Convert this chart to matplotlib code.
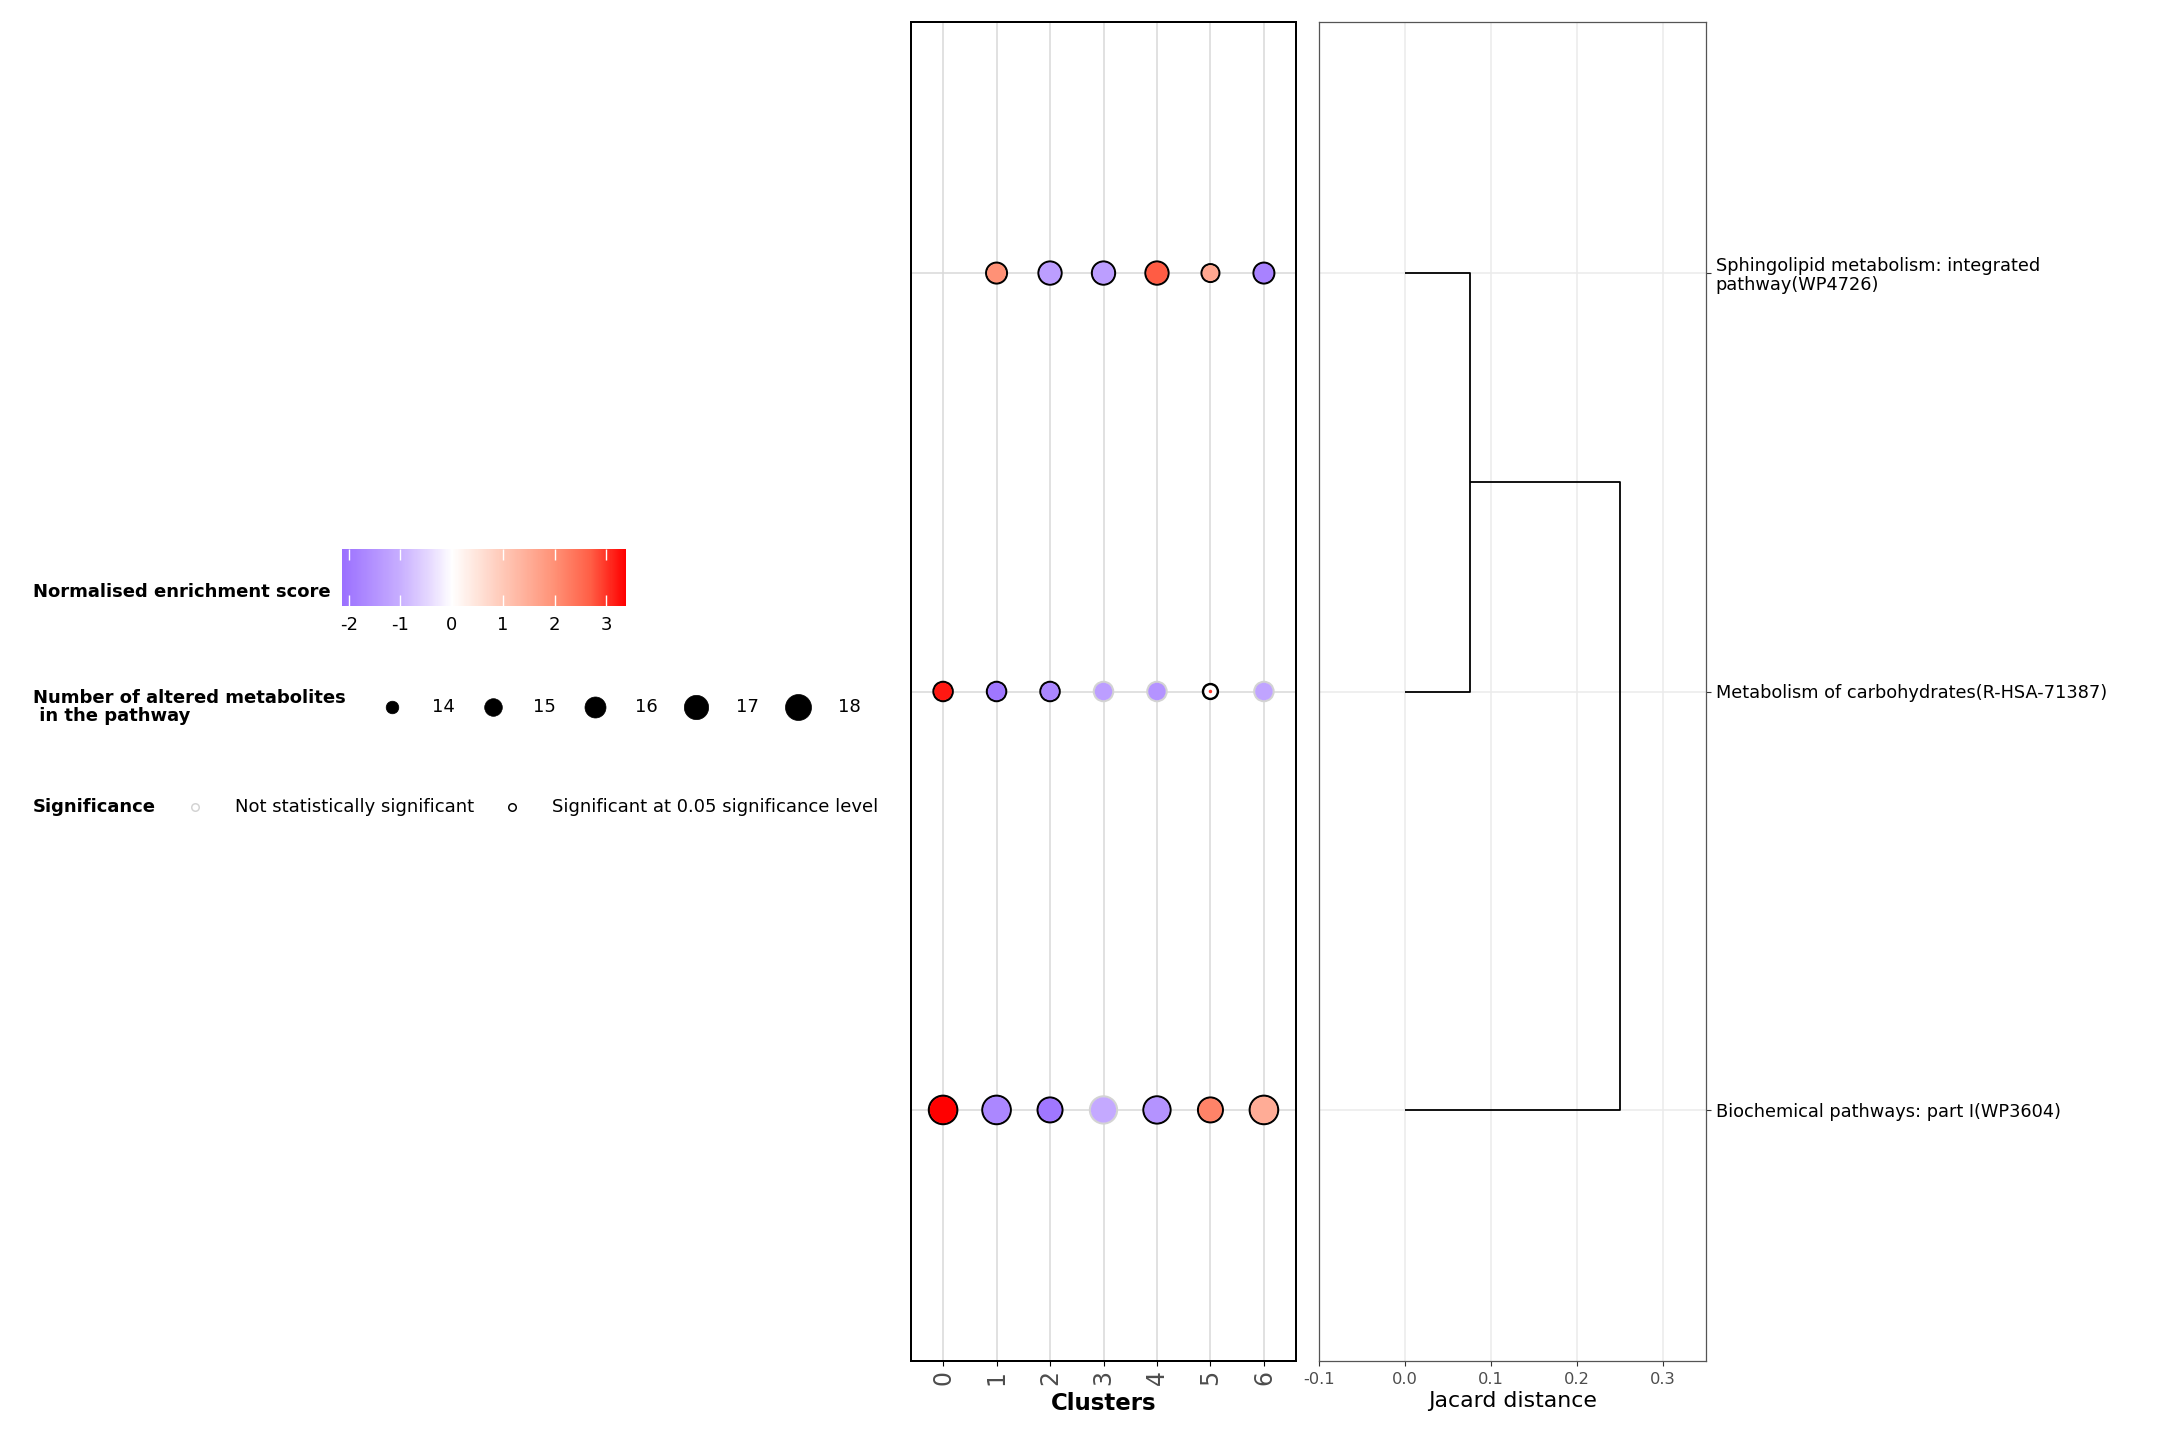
import numpy as np
import matplotlib
matplotlib.use("Agg")
import matplotlib.pyplot as plt
from matplotlib.colors import LinearSegmentedColormap, Normalize
from matplotlib.cm import ScalarMappable

plt.rcParams["axes.unicode_minus"] = False

# ---- data ----
clusters = [0, 1, 2, 3, 4, 5, 6]
pathways = ["Biochemical pathways: part I(WP3604)",
            "Metabolism of carbohydrates(R-HSA-71387)",
            "Sphingolipid metabolism: integrated\npathway(WP4726)"]

# normalised enrichment score per cluster (nan = not tested)
nes_biochem = [3.39, -1.7, -2.0, -1.1, -1.5, 2.2, 1.5]
nes_carb = [3.2, -2.0, -1.7, -1.3, -1.5, 3.0, -1.2]
nes_sphingo = [np.nan, 2.0, -1.3, -1.3, 2.7, 1.6, -1.8]

# number of altered metabolites per cluster
n_biochem = [20, 20, 18, 19, 19, 18, 20]
n_carb = [15, 15, 15, 15, 15, 13, 15]
n_sphingo = [np.nan, 16, 17, 17, 17, 14, 16]

# significant at 0.05 ?
sig_biochem = [1, 1, 1, 0, 1, 1, 1]
sig_carb = [1, 1, 1, 0, 0, 1, 0]
sig_sphingo = [0, 1, 1, 1, 1, 1, 1]

# dendrogram of the pathways (jaccard distance merge heights)
merge_heights = [0.075, 0.25]

nes_limits = (-2.13, 3.39)
size_breaks = [14, 15, 16, 17, 18]

# ---- style ----
W, H, DPI = 2160, 1440, 100
PT = 72 / DPI   # points per pixel

count_steps = [13, 14, 15, 16, 17, 18, 19, 20]
ring_px = [17.3, 20, 21.5, 23, 25.3, 27, 29.3, 30.6]
fill_px = [3.5, 16, 17.5, 19, 21.3, 23, 25.3, 26.6]
legend_px = [13.3, 18.3, 21.7, 25, 26.7]
RING_LW = 2.4

span = nes_limits[1] - nes_limits[0]
cmap = LinearSegmentedColormap.from_list("nes", [
    (0.0, (155/255, 112/255, 1.0)),
    ((-1.0 - nes_limits[0]) / span, (200/255, 175/255, 1.0)),
    ((-0.4 - nes_limits[0]) / span, (232/255, 220/255, 1.0)),
    ((0.0 - nes_limits[0]) / span, (1.0, 1.0, 1.0)),
    ((0.5 - nes_limits[0]) / span, (1.0, 228/255, 218/255)),
    ((1.0 - nes_limits[0]) / span, (1.0, 200/255, 183/255)),
    ((2.0 - nes_limits[0]) / span, (1.0, 145/255, 118/255)),
    ((2.7 - nes_limits[0]) / span, (1.0, 95/255, 70/255)),
    (1.0, (1.0, 0.0, 0.0)),
])
norm = Normalize(*nes_limits)


def frac(x0, y0, x1, y1):
    # pixel box (top-left origin) -> figure fraction
    return [x0 / W, 1 - y1 / H, (x1 - x0) / W, (y1 - y0) / H]


fig = plt.figure(figsize=(W / DPI, H / DPI), dpi=DPI)

# ---------------- dot plot ----------------
ax = fig.add_axes(frac(911, 22, 1296, 1361))
ax.set_xlim(-0.6, 6.6)
ax.set_ylim(0.4, 3.6)
for c in clusters:
    ax.axvline(c, color="#d9d9d9", lw=1.1, zorder=0)
for r in [1, 2, 3]:
    ax.axhline(r, color="#d9d9d9", lw=1.1, zorder=0)

rows = [(nes_biochem, n_biochem, sig_biochem),
        (nes_carb, n_carb, sig_carb),
        (nes_sphingo, n_sphingo, sig_sphingo)]
for yi, (nes, cnt, sig) in enumerate(rows, start=1):
    nes = np.array(nes, dtype=float)
    cnt = np.array(cnt, dtype=float)
    ok = ~np.isnan(nes)
    x = np.array(clusters)[ok]
    y = np.full(x.shape, yi)
    rp = np.interp(cnt[ok], count_steps, ring_px)
    fp = np.interp(cnt[ok], count_steps, fill_px)
    edge = ["black" if s else "#d3d3d3" for s, o in zip(sig, ok) if o]
    ax.scatter(x, y, s=((rp - RING_LW) * PT) ** 2, facecolors="white",
               edgecolors=edge, linewidths=RING_LW * PT, zorder=3)
    ax.scatter(x, y, s=(fp * PT) ** 2, c=nes[ok], cmap=cmap, norm=norm,
               linewidths=0, zorder=4)

ax.set_yticks([])
ax.set_xticks(clusters)
ax.set_xticklabels([str(c) for c in clusters], rotation=90, fontsize=17,
                   color="#4d4d4d")
ax.tick_params(axis="x", length=3.6, width=0.8, pad=3)
for s in ax.spines.values():
    s.set_color("black")
    s.set_linewidth(2 * PT)
ax.set_xlabel("Clusters", fontsize=16.5, fontweight="bold", labelpad=5)

# ---------------- dendrogram ----------------
ad = fig.add_axes(frac(1319, 22, 1706, 1361))
ad.set_xlim(-0.1, 0.35)
ad.set_ylim(0.4, 3.6)
for g in [0.0, 0.1, 0.2, 0.3]:
    ad.axvline(g, color="#ebebeb", lw=1.1, zorder=0)
for r in [1, 2, 3]:
    ad.axhline(r, color="#ebebeb", lw=1.1, zorder=0)

# first merge: top two leaves, then the bottom leaf joins
h1, h2 = merge_heights
seg = dict(color="black", lw=1.3, solid_capstyle="butt", zorder=3)
ad.plot([0, h1, h1, 0], [3, 3, 2, 2], **seg)
mid = (3 + 2) / 2
ad.plot([h1, h2, h2, 0], [mid, mid, 1, 1], **seg)

ad.set_xticks([-0.1, 0.0, 0.1, 0.2, 0.3])
ad.set_xticklabels(["-0.1", "0.0", "0.1", "0.2", "0.3"], fontsize=11.7,
                   color="#4d4d4d")
ad.tick_params(axis="x", length=3.6, width=0.8, color="#333333", pad=4)
ad.yaxis.tick_right()
ad.set_yticks([1, 2, 3])
ad.set_yticklabels(pathways, fontsize=12.8, linespacing=1.08)
ad.tick_params(axis="y", length=3.6, width=0.8, color="#333333", pad=3.5)
for s in ad.spines.values():
    s.set_color("#555555")
    s.set_linewidth(0.9)
ad.set_xlabel("Jacard distance", fontsize=15.8, labelpad=3)

# ---------------- legends ----------------
lg = fig.add_axes([0, 0, 1, 1])
lg.set_xlim(0, W)
lg.set_ylim(H, 0)
lg.axis("off")
lg.set_zorder(-1)

# colour bar
cax = fig.add_axes(frac(342.3, 549.3, 626, 606))
cb = fig.colorbar(ScalarMappable(norm=norm, cmap=cmap), cax=cax,
                  orientation="horizontal")
cb.outline.set_visible(False)
cb.set_ticks([-2, -1, 0, 1, 2, 3])
cax.xaxis.set_ticks_position("both")
cax.tick_params(axis="x", which="both", direction="in", length=8,
                width=1, color="white", labelsize=13, pad=7,
                labeltop=False, labelbottom=True)
cax.minorticks_off()
lg.text(33, 592, "Normalised enrichment score", fontsize=13,
        fontweight="bold", va="center", ha="left")

# size legend
lg.text(33, 707, "Number of altered metabolites\n in the pathway",
        fontsize=13, fontweight="bold", va="center", ha="left",
        linespacing=1.05)
x0, step = 391.7, 101.5
for i, (b, d) in enumerate(zip(size_breaks, legend_px)):
    xk = x0 + i * step
    lg.scatter([xk], [706.7], s=((d - 0.7) * PT) ** 2, color="black",
               edgecolors="black", linewidths=0.7 * PT)
    lg.text(xk + 40, 707, str(b), fontsize=13, va="center", ha="left")

# significance legend
lg.text(33, 806.7, "Significance", fontsize=13, fontweight="bold",
        va="center", ha="left")
sig_labels = ["Not statistically significant",
              "Significant at 0.05 significance level"]
sig_cols = ["#d3d3d3", "black"]
for xk, lab, col in zip([195, 511.7], sig_labels, sig_cols):
    lg.scatter([xk], [806.7], s=(7.5 * PT) ** 2, facecolors="white",
               edgecolors=col, linewidths=1.5 * PT)
    lg.text(xk + 40, 807, lab, fontsize=13, va="center", ha="left")

fig.savefig("out.png", dpi=DPI, facecolor="white")
